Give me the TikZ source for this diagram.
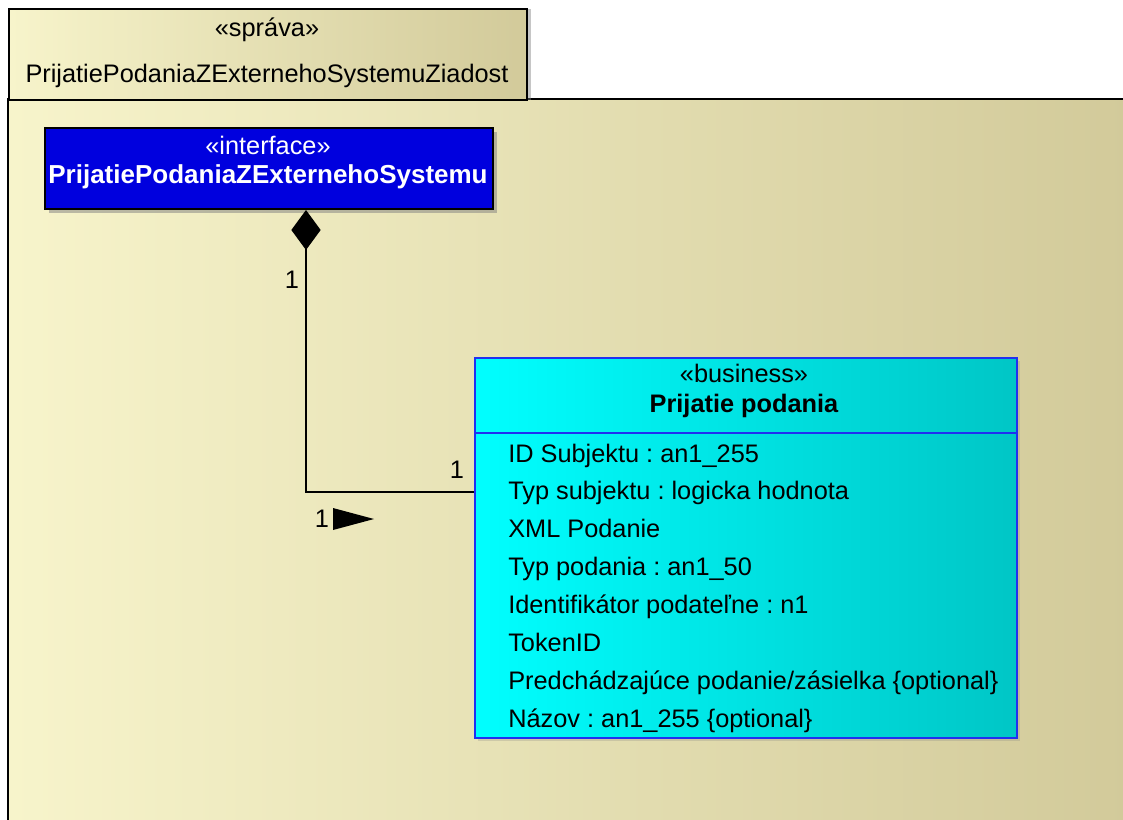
\documentclass[tikz,border=0pt]{standalone}
\usepackage{fontspec}
\setmainfont{Liberation Sans}
\usetikzlibrary{arrows.meta}
\usetikzlibrary{shadows}
\frenchspacing
\definecolor{pkgleft}{HTML}{F7F4CB}
\definecolor{pkgright}{HTML}{D2CA9A}
\definecolor{ifblue}{HTML}{0000DE}
\definecolor{bizleft}{HTML}{00FFFF}
\definecolor{bizright}{HTML}{00C6C6}
\definecolor{bizline}{HTML}{2030F0}
\tikzset{
  txt/.style= {inner sep=0, font=\fontsize{19}{23}\selectfont},
  pkg/.style= {left color=pkgleft, right color=pkgright},
  tab/.style= {draw, line width=1.5pt, pkg, inner sep=0, anchor=north west,
    drop shadow={shadow xshift=3pt, shadow yshift=0pt, opacity=0.45}},
  iface/.style= {draw, line width=1.5pt, fill=ifblue, inner sep=0, anchor=north west,
    drop shadow={shadow xshift=3pt, shadow yshift=-3pt, opacity=0.5}},
  business/.style= {draw=bizline, line width=1.3pt, left color=bizleft, right color=bizright,
    inner sep=0, anchor=north west,
    drop shadow={shadow xshift=2pt, shadow yshift=-2pt, opacity=0.25}},
  conn/.style= {line width=1.4pt},
}

\begin{document}
\begin{tikzpicture}[x=0.75pt, y=-0.75pt]
  \useasboundingbox (0,0) rectangle (1123,819);
  % package
  \fill[pkg] (8,99) rectangle (1130,830);
  \draw[line width=1.5pt] (1130,99) -- (8,99) -- (8,830);
  \node [tab, minimum width=388.5pt, minimum height=68.25pt] (tab) at (8,8) {};
  \node [txt, anchor=base] (tabst) at (267,36) {«správa»};
  \node [txt, anchor=base] (tabname) at (267,82) {PrijatiePodaniaZExternehoSystemuZiadost};

  % interface
  \node [iface, minimum width=336pt, minimum height=60.75pt] (iface) at (44,127) {};
  \node [txt, anchor=base, text=white] (ifst) at (268,154) {«interface»};
  \node [txt, anchor=base, text=white, font=\fontsize{19.5}{23}\selectfont\bfseries] (ifname) at (268,183) {PrijatiePodaniaZExternehoSystemu};

  % business class
  \node [business, minimum width=406.5pt, minimum height=285pt] (podanie) at (474,357) {};
  \draw [bizline, line width=1.3pt] (podanie.west |- 0,433) -- (podanie.east |- 0,433);
  \node [txt, anchor=base] (bizst) at (744,382) {«business»};
  \node [txt, anchor=base, font=\fontsize{19}{23}\selectfont\bfseries] (bizname) at (744,412) {Prijatie podania};
  \foreach \attr [count=\i] in {ID Subjektu : an1\_255, Typ subjektu : logicka hodnota,
      XML Podanie, Typ podania : an1\_50, Identifikátor podateľne : n1, TokenID,
      Predchádzajúce podanie/zásielka \{optional\}, Názov : an1\_255 \{optional\}}
    \node [txt, anchor=base west] (attr\i) at (508,{462+37.9*(\i-1)}) {\attr};

  % composition
  \coordinate (bend) at (306,492);
  \draw [conn, {Diamond[length=30pt, width=22pt]}-] (iface.south -| bend) -- (bend) -- (bend -| podanie.west);
  \node [txt] (m1) at (292,280) {1};
  \node [txt] (m2) at (457,470) {1};
  \node [txt] (m3) at (322,519) {1};
  \fill (333,508) -- (374,519) -- (333,530) -- cycle;
\end{tikzpicture}
\end{document}
